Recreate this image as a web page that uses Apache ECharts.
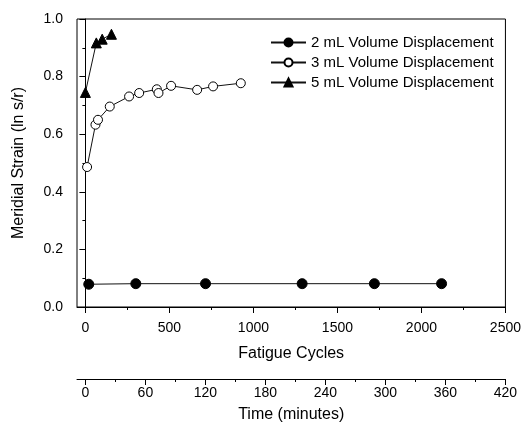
<!DOCTYPE html>
<html>
<head>
<meta charset="utf-8">
<script src="https://cdn.jsdelivr.net/npm/echarts@6/dist/echarts.min.js"></script>
<style>
	html, body { margin: 0; padding: 0; background: #fff; }
	#chart { width: 524px; height: 429px; }
</style>
</head>
<body>
<div id="chart"></div>
<script>
// 2 mL 体积位移
var cycles2 = [20, 300, 715, 1290, 1720, 2120];
var strain2 = [0.079, 0.081, 0.081, 0.081, 0.081, 0.081];
// 3 mL 体积位移
var cycles3 = [10, 60, 75, 145, 260, 320, 425, 435, 510, 665, 760, 925];
var strain3 = [0.486, 0.633, 0.650, 0.696, 0.731, 0.743, 0.756, 0.743, 0.768, 0.754, 0.766, 0.777];
// 5 mL 体积位移
var cycles5 = [0, 65, 100, 155];
var strain5 = [0.745, 0.917, 0.930, 0.947];

var seriesNames = ['2 mL Volume Displacement', '3 mL Volume Displacement', '5 mL Volume Displacement'];

// 刻度
var cycleLabels = [0, 500, 1000, 1500, 2000, 2500];
var cycleTicks = [0, 250, 500, 750, 1000, 1250, 1500, 1750, 2000, 2250, 2500];
var timeLabels = [0, 60, 120, 180, 240, 300, 360, 420];
var timeTicks = [0, 30, 60, 90, 120, 150, 180, 210, 240, 270, 300, 330, 360, 390, 420];

var FONT = 'Liberation Sans, Arial, sans-serif';

function pairs(xs, ys) { //把两个数组拼成 [x, y]
	var ret = [];
	for (var i = 0; i < xs.length; i++) {
		ret.push([xs[i], ys[i]]);
	}
	return ret;
}

function plain(v) { //不要千位逗号
	return String(v);
}

function tickAxis(min, max, ticks, offset) { //只画短刻度的辅助轴
	return {
		type: 'value',
		min: min,
		max: max,
		position: 'bottom',
		offset: offset,
		axisLine: { show: false },
		axisTick: { show: true, length: 3, customValues: ticks, lineStyle: { color: '#000' } },
		axisLabel: { show: false },
		splitLine: { show: false }
	};
}

var myChart = echarts.init(document.getElementById('chart'));
var option = {
	animation: false,
	textStyle: { fontFamily: FONT, color: '#000' },
	grid: {
		left: 77,
		right: 17,
		top: 19,
		bottom: 122,
		show: true,
		borderColor: '#000',
		borderWidth: 1
	},
	legend: {
		orient: 'vertical',
		left: 270,
		top: 35,
		padding: 0,
		itemWidth: 35,
		itemHeight: 10,
		itemGap: 5,
		data: seriesNames,
		textStyle: { fontFamily: FONT, fontSize: 15, color: '#000' }
	},
	xAxis: [
		{
			type: 'value',
			min: -50,
			max: 2500,
			position: 'bottom',
			name: 'Fatigue Cycles',
			nameLocation: 'middle',
			nameGap: 39,
			nameTextStyle: { fontSize: 16, color: '#000' },
			axisLine: { lineStyle: { color: '#000' } },
			axisTick: { length: 6, customValues: cycleLabels, lineStyle: { color: '#000' } },
			axisLabel: { customValues: cycleLabels, fontSize: 14, color: '#000', margin: 14, formatter: plain },
			splitLine: { show: false }
		},
		tickAxis(-50, 2500, cycleTicks, 0),
		{
			type: 'value',
			min: -8.4,
			max: 420,
			position: 'bottom',
			offset: 72,
			name: 'Time (minutes)',
			nameLocation: 'middle',
			nameGap: 28,
			nameTextStyle: { fontSize: 16, color: '#000' },
			axisLine: { lineStyle: { color: '#000' } },
			axisTick: { length: 6, customValues: timeLabels, lineStyle: { color: '#000' } },
			axisLabel: { customValues: timeLabels, fontSize: 14, color: '#000', margin: 7, formatter: plain },
			splitLine: { show: false }
		},
		tickAxis(-8.4, 420, timeTicks, 72)
	],
	yAxis: {
		type: 'value',
		min: 0,
		max: 1,
		interval: 0.2,
		name: 'Meridial Strain (ln s/r)',
		nameLocation: 'middle',
		nameRotate: 90,
		nameGap: 50,
		nameTextStyle: { fontSize: 16, color: '#000' },
		axisLine: { show: true, lineStyle: { color: '#000' } },
		axisTick: { length: 6, lineStyle: { color: '#000' } },
		minorTick: { show: true, splitNumber: 2, length: 3, lineStyle: { color: '#000' } },
		axisLabel: {
			fontSize: 14,
			color: '#000',
			margin: 14,
			formatter: function (v) { return v.toFixed(1); }
		},
		splitLine: { show: false },
		minorSplitLine: { show: false }
	},
	series: [
		{
			name: seriesNames[0],
			type: 'line',
			data: pairs(cycles2, strain2),
			symbol: 'circle',
			symbolSize: 10,
			lineStyle: { color: '#111', width: 1 },
			itemStyle: { color: '#000', borderColor: '#000', borderWidth: 1 }
		},
		{
			name: seriesNames[1],
			type: 'line',
			data: pairs(cycles3, strain3),
			symbol: 'circle',
			symbolSize: 9,
			lineStyle: { color: '#111', width: 1 },
			itemStyle: { color: '#fff', borderColor: '#000', borderWidth: 1 }
		},
		{
			name: seriesNames[2],
			type: 'line',
			data: pairs(cycles5, strain5),
			symbol: 'triangle',
			symbolSize: 10,
			lineStyle: { color: '#111', width: 1 },
			itemStyle: { color: '#000', borderColor: '#000', borderWidth: 1 }
		}
	]
};
myChart.setOption(option);
</script>
</body>
</html>
